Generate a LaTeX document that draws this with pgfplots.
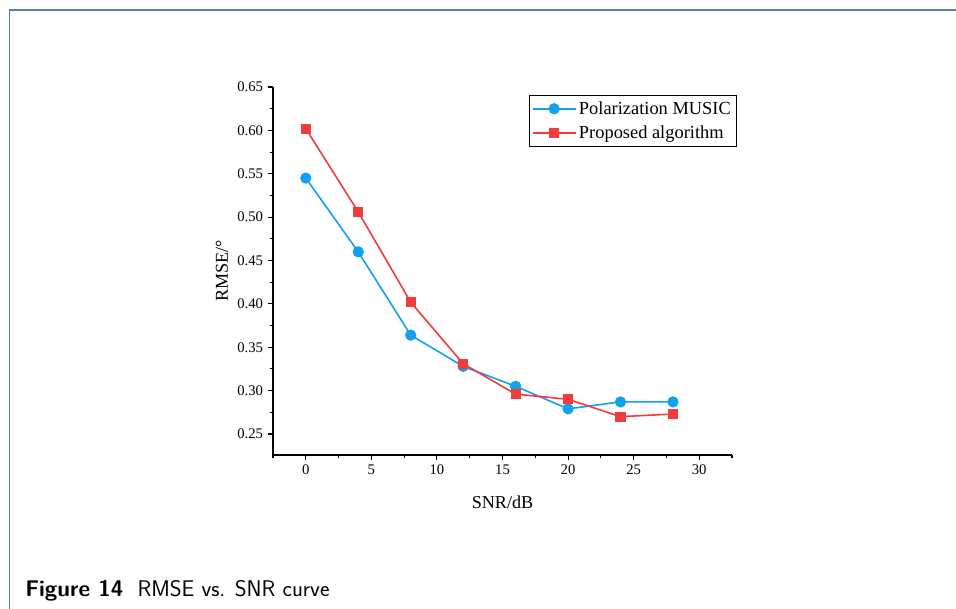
\documentclass[border=0pt]{standalone}
\usepackage{fontspec}
\setmainfont{Liberation Serif}
\usepackage{pgfplots}
\pgfplotsset{compat=1.18}

\definecolor{musicblue}{RGB}{20,160,240}
\definecolor{propred}{RGB}{240,60,60}
\definecolor{framecol}{RGB}{90,125,165}

\begin{document}
\begin{tikzpicture}[x=0.75pt,y=0.75pt]
\useasboundingbox (0,0) rectangle (956,608);
\draw[framecol, line width=1.4pt] (9.5,-12) -- (9.5,598) -- (970,598);
\node[anchor=base west, inner sep=0pt, font=\sffamily\fontsize{17}{19}\selectfont] at (25,12) {\textbf{Figure 14}\ \ RMSE vs. SNR curve};
\begin{axis}[
    at={(273pt*0.75,153pt*0.75)}, anchor=south west,
    scale only axis, width=344.25pt, height=276pt,
    xmin=-2.5, xmax=32.5, ymin=0.2258, ymax=0.65,
    axis x line*=bottom, axis y line*=left,
    axis line style={black, line width=0.8pt},
    tick align=outside,
    major tick length=4pt, minor tick length=2.5pt,
    tick style={black, line width=0.8pt},
    xtick={0,5,...,30},
    minor xtick={-2.5,2.5,7.5,12.5,17.5,22.5,27.5,32.5},
    ytick={0.25,0.30,...,0.65},
    minor ytick={0.275,0.325,0.375,0.425,0.475,0.525,0.575,0.625},
    /pgf/number format/assume math mode=true,
    yticklabel style={/pgf/number format/.cd, fixed, fixed zerofill, precision=2},
    tick label style={font=\fontsize{11}{13}\selectfont},
    xlabel={SNR/dB},
    ylabel={RMSE/°},
    label style={font=\fontsize{13.6}{15}\selectfont},
    xlabel style={yshift=-9pt},
    every axis plot/.append style={line width=1.2pt, mark size=3.6pt},
    legend style={at={(0.558,0.978)}, anchor=north west, draw=black,
        fill=white, font=\fontsize{13.8}{17}\selectfont, inner xsep=2pt, inner ysep=2.5pt,
        row sep=3pt, cells={anchor=west}},
    legend image code/.code={\draw[line width=1.2pt, mark repeat=2,mark phase=2] plot coordinates {(0pt,0pt) (16pt,0pt) (32pt,0pt)};},
]
\addplot[color=musicblue, mark=*] coordinates {
(0,0.545) (4,0.460) (8,0.364) (12,0.328) (16,0.305) (20,0.279) (24,0.287) (28,0.287)};
\addlegendentry{Polarization MUSIC}
\addplot[color=propred, mark=square*, mark size=3.2pt] coordinates {
(0,0.602) (4,0.506) (8,0.402) (12,0.331) (16,0.296) (20,0.290) (24,0.270) (28,0.273)};
\addlegendentry{Proposed algorithm}
\end{axis}
\end{tikzpicture}
\end{document}
